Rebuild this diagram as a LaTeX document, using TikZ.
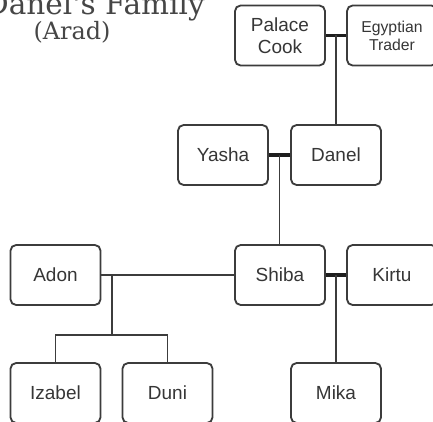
\documentclass[tikz,border=0pt]{standalone}
\usepackage{fontspec}
\setmainfont{Liberation Sans}
\newfontfamily\titlefont{DejaVu Serif}
\usetikzlibrary{calc}
\definecolor{Ink}{RGB}{60,60,60}
\definecolor{WedInk}{RGB}{30,30,30}
\definecolor{TitleInk}{RGB}{70,70,70}
\tikzset{
  person/.style={
    draw=Ink, line width=1.3pt, rounded corners=4pt, fill=white,
    minimum width=2.25cm, minimum height=1.5cm, align=center,
    text=Ink!90!black, font=\fontsize{13.5}{15.5}\selectfont
  },
  small/.style={font=\fontsize{11.2}{12.8}\selectfont},
  kin/.style={draw=Ink, line width=1.3pt},
  wed/.style={draw=WedInk, line width=2.2pt},
  heading/.style={text=TitleInk, inner sep=0pt},
}

\begin{document}
\begin{tikzpicture}[x=0.025cm,y=0.025cm]
\fill[white, use as bounding box] (0,0) rectangle (433,421);
\clip (0,0) rectangle (433,421);

% ---- Title ----
\node[heading, anchor=base east, font=\titlefont\fontsize{21}{24}\selectfont]
  (title) at (205,406) {Danel's Family};
\node[heading, anchor=base, font=\titlefont\fontsize{17}{20}\selectfont]
  (arad) at (72,381) {(Arad)};

% ---- Grandparents ----
\node[person] (cook) at (280,385.5) {Palace\\Cook};
\node[person, small] (trader) at (392,385.5) {Egyptian\\Trader};

% ---- Parents ----
\node[person] (yasha) at (223,266) {Yasha};
\node[person] (danel) at (336,266) {Danel};

% ---- Shiba and spouses ----
\node[person] (adon) at (55.5,146) {Adon};
\node[person] (shiba) at (280,146) {Shiba};
\node[person] (kirtu) at (392,146) {Kirtu};

% ---- Children ----
\node[person] (izabel) at (55.5,28) {Izabel};
\node[person] (duni) at (167.5,28) {Duni};
\node[person] (mika) at (336,28) {Mika};

% ---- Couples ----
\coordinate (c1) at ($(cook.east)!0.5!(trader.west)$);
\coordinate (c2) at ($(yasha.east)!0.5!(danel.west)$);
\coordinate (c3) at ($(shiba.east)!0.5!(kirtu.west)$);
\coordinate (c4) at (112,146);
\coordinate (fork) at (112,86);

\draw[wed] (cook.east) -- (trader.west);
\draw[wed] (yasha.east) -- (danel.west);
\draw[wed] (shiba.east) -- (kirtu.west);
\draw[kin] (adon.east) -- (shiba.west);

% ---- Descent ----
\draw[kin] (c1) -- (c1 |- danel.north);
\draw[kin] (c2) -- (c2 |- shiba.north);
\draw[kin] (c3) -- (c3 |- mika.north);
\draw[kin] (c4) -- (fork);
\draw[kin] (izabel.north) |- (fork) -| (duni.north);

\end{tikzpicture}
\end{document}
